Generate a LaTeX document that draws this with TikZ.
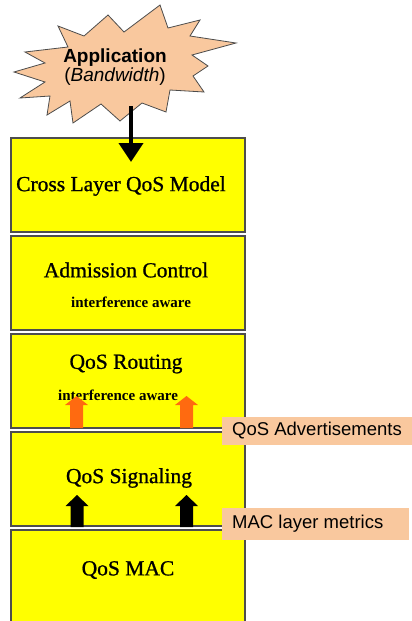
\documentclass[tikz,border=0pt]{standalone}
\usepackage{fontspec}
\setmainfont{Liberation Serif}
\newfontfamily\heavyserif[FakeBold=0.9]{Liberation Serif}
\newfontfamily\arialf{Liberation Sans}
\usetikzlibrary{arrows.meta}
\definecolor{boxyellow}{HTML}{FFFF00}
\definecolor{boxedge}{HTML}{4D4D4D}
\definecolor{peach}{HTML}{F9C89E}
\definecolor{arrorange}{HTML}{FF6A10}
\tikzset{
  layerbox/.style={draw=boxedge, line width=1.4pt, fill=boxyellow, rectangle, inner sep=0pt, minimum width=234pt, minimum height=94pt},
  maintext/.style={font=\heavyserif\fontsize{21.5}{24}\selectfont, inner sep=0pt},
  subtext/.style={font=\fontsize{15}{17}\selectfont\bfseries, inner sep=0pt},
  tagbox/.style={fill=peach, rectangle, inner sep=0pt, anchor=north west},
  tagtext/.style={font=\arialf\fontsize{18.5}{20}\selectfont, inner sep=0pt, anchor=west},
}
\begin{document}
\begin{tikzpicture}[x=1pt,y=-1pt]
\useasboundingbox (0,0) rectangle (412,621);
\fill[white] (0,0) rectangle (412,621);

% starburst
\draw[fill=peach, draw=black!70, line width=0.8pt, line join=miter]
 (58,26) -- (84,36) -- (108,15) -- (124,32) -- (160,5) -- (168,28) -- (200,20)
 -- (190,36) -- (236,43) -- (192,55) -- (208,66) -- (193,76) -- (204,92)
 -- (170,90) -- (166,112) -- (142,103) -- (120,121) -- (101,104) -- (73,123)
 -- (70,101) -- (47,115) -- (50,96) -- (20,98) -- (45,82) -- (14,72)
 -- (45,63) -- (25,52) -- (68,47) -- cycle;
\node[inner sep=0pt, font=\arialf\bfseries\fontsize{19}{21}\selectfont] (app) at (115,58) {Application};
\node[inner sep=0pt, font=\arialf\fontsize{19}{21}\selectfont] (bw) at (115,77) {(\textit{Bandwidth})};
\coordinate (appfoot) at (131,106);

% layer boxes
\node[layerbox] (cl) at (128,185) {};
\node[layerbox] (ac) at (128,283) {};
\node[layerbox] (qr) at (128,381) {};
\node[layerbox] (qs) at (128,479) {};
\node[layerbox, minimum height=96pt] (qm) at (128,578) {};

\node[maintext] (clt) at (121,186) {Cross Layer QoS Model};
\node[maintext] (act) at (126,270) {Admission Control};
\node[subtext] (acs) at (131,302) {interference aware};
\node[maintext] (qrt) at (126,364) {QoS Routing};
\node[subtext] (qrs) at (118,395) {interference aware};
\node[maintext] (qst) at (129,478) {QoS Signaling};
\node[maintext] (qmt) at (128,570) {QoS MAC};

% main arrow
\coordinate (tip) at (131,162);
\draw[line width=4pt, -{Triangle[width=24pt,length=19pt]}] (appfoot) -- (tip);

% orange block arrows
\foreach \cx in {76.5,186.5}{
  \fill[arrorange] (\cx-6.5,428) -- (\cx-6.5,405) -- (\cx-11.5,405) -- (\cx,396)
    -- (\cx+11.5,405) -- (\cx+6.5,405) -- (\cx+6.5,428) -- cycle;
}
% black block arrows
\foreach \cx in {77,186.5}{
  \fill[black] (\cx-6.5,527) -- (\cx-6.5,506) -- (\cx-11.5,506) -- (\cx,495)
    -- (\cx+11.5,506) -- (\cx+6.5,506) -- (\cx+6.5,527) -- cycle;
}

% tags
\node[tagbox, minimum width=190pt, minimum height=28pt] (adv) at (222,417) {};
\node[tagtext] (advt) at (232,431) {QoS Advertisements};
\node[tagbox, minimum width=187pt, minimum height=32pt] (mac) at (222,508) {};
\node[tagtext] (mact) at (232,524) {MAC layer metrics};
\end{tikzpicture}
\end{document}
